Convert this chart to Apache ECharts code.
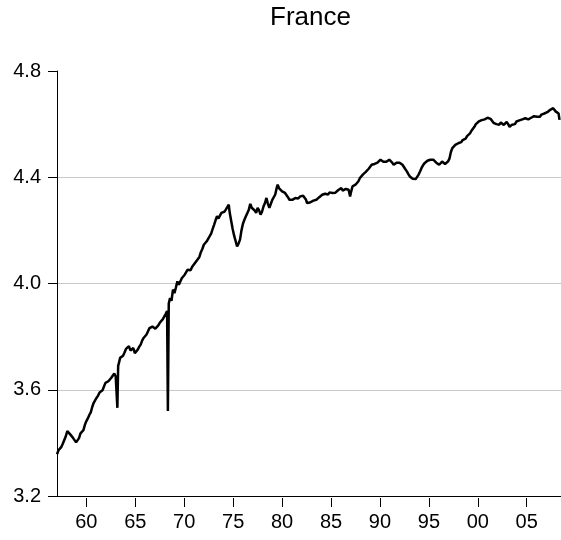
<!DOCTYPE html>
<html>
<head>
<meta charset="utf-8">
<script src="https://cdn.jsdelivr.net/npm/echarts@6/dist/echarts.min.js"></script>
<style>html,body{margin:0;padding:0;background:#fff}#c{width:561px;height:540px}</style>
</head>
<body>
<div id="c"></div>
<script>
var chartTitle = 'France';
var years = [
1957.00,1957.15,1957.30,1957.45,1957.60,1957.75,1957.90,1958.05,1958.20,1958.35,1958.50,1958.65,1958.80,1958.95,
1959.10,1959.25,1959.40,1959.55,1959.70,1959.85,1960.00,1960.15,1960.30,1960.45,1960.60,1960.75,1960.90,
1961.05,1961.20,1961.35,1961.50,1961.65,1961.80,1961.95,1962.10,1962.25,1962.40,1962.55,1962.70,1962.85,
1963.00,1963.08,1963.17,1963.25,1963.33,1963.45,1963.60,1963.75,1963.90,1964.05,1964.20,1964.35,1964.50,1964.65,1964.80,1964.95,
1965.10,1965.25,1965.40,1965.55,1965.70,1965.85,1966.00,1966.15,1966.30,1966.45,1966.60,1966.75,1966.90,
1967.05,1967.20,1967.35,1967.50,1967.65,1967.80,1967.95,1968.10,1968.25,1968.33,1968.42,1968.55,1968.70,1968.85,
1969.00,1969.15,1969.30,1969.45,1969.60,1969.75,1969.90,1970.05,1970.20,1970.35,1970.50,1970.65,1970.80,1970.95,
1971.10,1971.25,1971.40,1971.55,1971.70,1971.85,1972.00,1972.15,1972.30,1972.45,1972.60,1972.75,1972.90,
1973.05,1973.20,1973.35,1973.50,1973.65,1973.80,1973.95,1974.10,1974.25,1974.40,1974.55,1974.65,1974.80,1974.95,
1975.10,1975.25,1975.40,1975.55,1975.70,1975.85,1976.00,1976.15,1976.30,1976.45,1976.60,1976.75,1976.90,
1977.05,1977.20,1977.35,1977.50,1977.65,1977.80,1977.95,1978.10,1978.25,1978.40,1978.55,1978.70,1978.85,
1979.00,1979.15,1979.30,1979.45,1979.55,1979.70,1979.85,1980.00,1980.15,1980.30,1980.45,1980.60,1980.75,1980.90,
1981.05,1981.20,1981.35,1981.50,1981.65,1981.85,1982.00,1982.15,1982.30,1982.45,1982.55,1982.70,1982.85,
1983.05,1983.20,1983.35,1983.50,1983.65,1983.80,1983.95,1984.10,1984.25,1984.40,1984.55,1984.70,1984.85,
1985.00,1985.15,1985.30,1985.45,1985.60,1985.75,1985.90,1986.05,1986.20,1986.35,1986.50,1986.65,1986.80,1986.95,
1987.05,1987.20,1987.35,1987.50,1987.65,1987.80,1987.95,1988.10,1988.25,1988.40,1988.55,1988.70,1988.85,
1989.00,1989.15,1989.30,1989.45,1989.60,1989.75,1989.90,1990.05,1990.20,1990.35,1990.50,1990.65,1990.80,1990.95,
1991.10,1991.25,1991.40,1991.55,1991.70,1991.85,1992.00,1992.15,1992.30,1992.45,1992.60,1992.75,1992.90,
1993.05,1993.20,1993.35,1993.50,1993.65,1993.80,1993.95,1994.10,1994.25,1994.40,1994.55,1994.70,1994.85,
1995.00,1995.15,1995.30,1995.45,1995.60,1995.75,1995.90,1996.05,1996.20,1996.35,1996.50,1996.65,1996.80,1996.95,
1997.10,1997.25,1997.40,1997.55,1997.70,1997.85,1998.00,1998.15,1998.30,1998.45,1998.60,1998.75,1998.90,
1999.05,1999.20,1999.35,1999.50,1999.65,1999.80,1999.95,2000.10,2000.25,2000.40,2000.55,2000.70,2000.85,
2001.00,2001.15,2001.30,2001.45,2001.60,2001.75,2001.90,2002.05,2002.20,2002.35,2002.50,2002.65,2002.80,2002.95,
2003.10,2003.25,2003.35,2003.50,2003.65,2003.80,2003.95,2004.10,2004.25,2004.40,2004.55,2004.70,2004.85,
2005.00,2005.15,2005.30,2005.45,2005.60,2005.75,2005.90,2006.05,2006.20,2006.35,2006.50,2006.65,2006.80,2006.95,
2007.10,2007.25,2007.40,2007.55,2007.70,2007.80,2007.95,2008.10,2008.25,2008.35
];
var values = [
3.357,3.372,3.365,3.385,3.398,3.405,3.425,3.444,3.438,3.432,3.428,3.418,3.412,3.402,
3.400,3.418,3.436,3.440,3.448,3.468,3.482,3.492,3.505,3.515,3.535,3.551,3.558,
3.570,3.578,3.590,3.588,3.598,3.595,3.626,3.625,3.632,3.638,3.645,3.650,3.661,
3.650,3.645,3.532,3.690,3.701,3.720,3.722,3.728,3.740,3.754,3.760,3.764,3.748,3.745,3.757,3.738,
3.742,3.751,3.762,3.770,3.785,3.795,3.800,3.808,3.820,3.832,3.839,3.838,3.836,
3.830,3.827,3.842,3.852,3.850,3.865,3.871,3.885,3.896,3.520,3.925,3.945,3.935,3.977,
3.964,3.985,4.008,3.995,4.002,4.020,4.015,4.033,4.040,4.052,4.055,4.050,4.062,4.070,
4.077,4.085,4.090,4.100,4.118,4.130,4.146,4.150,4.159,4.165,4.178,4.188,4.205,
4.221,4.238,4.253,4.245,4.240,4.266,4.262,4.270,4.278,4.285,4.297,4.266,4.235,4.205,
4.180,4.160,4.140,4.150,4.165,4.200,4.225,4.240,4.253,4.265,4.278,4.300,4.285,
4.290,4.275,4.266,4.285,4.275,4.259,4.270,4.290,4.303,4.322,4.300,4.285,4.290,
4.315,4.322,4.335,4.360,4.372,4.358,4.353,4.347,4.340,4.341,4.334,4.325,4.315,4.309,
4.315,4.318,4.322,4.328,4.320,4.328,4.333,4.330,4.334,4.315,4.303,4.308,4.305,
4.309,4.312,4.305,4.315,4.318,4.325,4.322,4.334,4.328,4.338,4.341,4.335,4.343,
4.338,4.341,4.348,4.342,4.347,4.352,4.345,4.359,4.350,4.347,4.356,4.350,4.353,4.328,
4.345,4.366,4.362,4.372,4.378,4.385,4.397,4.400,4.410,4.412,4.420,4.425,4.432,
4.435,4.447,4.443,4.450,4.448,4.455,4.462,4.466,4.462,4.458,4.453,4.458,4.460,4.466,
4.462,4.455,4.447,4.452,4.455,4.459,4.455,4.450,4.447,4.440,4.430,4.422,4.412,
4.403,4.398,4.394,4.395,4.393,4.397,4.410,4.422,4.435,4.445,4.453,4.458,4.462,
4.464,4.466,4.462,4.466,4.460,4.455,4.450,4.447,4.452,4.459,4.455,4.450,4.455,4.459,
4.470,4.495,4.510,4.515,4.522,4.518,4.528,4.535,4.532,4.540,4.538,4.545,4.555,
4.552,4.565,4.575,4.580,4.590,4.600,4.605,4.610,4.612,4.615,4.620,4.618,4.622,
4.624,4.618,4.620,4.614,4.605,4.610,4.600,4.603,4.598,4.606,4.602,4.597,4.604,4.608,
4.600,4.590,4.585,4.598,4.604,4.600,4.610,4.606,4.614,4.610,4.618,4.612,4.622,
4.628,4.618,4.616,4.624,4.620,4.630,4.635,4.628,4.632,4.628,4.636,4.634,4.640,4.641,
4.645,4.648,4.654,4.650,4.660,4.655,4.648,4.652,4.640,4.616
];
var xTickYears = [1960,1965,1970,1975,1980,1985,1990,1995,2000,2005];
var xTickLabels = ['60','65','70','75','80','85','90','95','00','05'];
var yMin = 3.2, yMax = 4.8, yStep = 0.4;

var data = years.map(function(y, i){ return [y, values[i]]; });
var FONT = 'Liberation Sans, Arial, Helvetica, sans-serif';
var chart = echarts.init(document.getElementById('c'), null, {renderer:'canvas'});
chart.setOption({
  animation: false,
  backgroundColor: '#fff',
  title: {
    text: chartTitle, left: 270, top: 5, padding: 0,
    textStyle: {fontFamily: FONT, fontSize: 26, fontWeight: 'normal', color: '#000'}
  },
  grid: {left: 57, right: 0, top: 71, bottom: 44, containLabel: false},
  xAxis: [{
    type: 'value', min: 1957, max: 2008.5,
    axisLine: {show: true, lineStyle: {color: '#000', width: 1}},
    axisTick: {show: false}, axisLabel: {show: false}, splitLine: {show: false}
  }, {
    type: 'value', min: 1957, max: 2008.5, position: 'bottom', offset: 2,
    axisLine: {show: false},
    axisTick: {show: true, length: 9, customValues: xTickYears, lineStyle: {color: '#000', width: 1}},
    axisLabel: {
      customValues: xTickYears, margin: 14, fontSize: 20, fontFamily: FONT, color: '#000',
      formatter: function(v){ var i = xTickYears.indexOf(Math.round(v)); return i >= 0 ? xTickLabels[i] : ''; }
    },
    splitLine: {show: false}
  }],
  yAxis: {
    type: 'value', min: yMin, max: yMax, interval: yStep,
    axisLine: {show: true, lineStyle: {color: '#000', width: 1}},
    axisTick: {show: true, length: 9, lineStyle: {color: '#000', width: 1}},
    axisLabel: {margin: 16, fontSize: 20, fontFamily: FONT, color: '#000',
      formatter: function(v){ return v.toFixed(1); }},
    splitLine: {show: true, showMinLine: false, showMaxLine: false, lineStyle: {color: '#c8c8c8', width: 1}}
  },
  series: [{
    type: 'line', xAxisIndex: 0, data: data, showSymbol: false, symbol: 'none',
    lineStyle: {color: '#000', width: 2.5}, z: 5
  }]
});
</script>
</body>
</html>
